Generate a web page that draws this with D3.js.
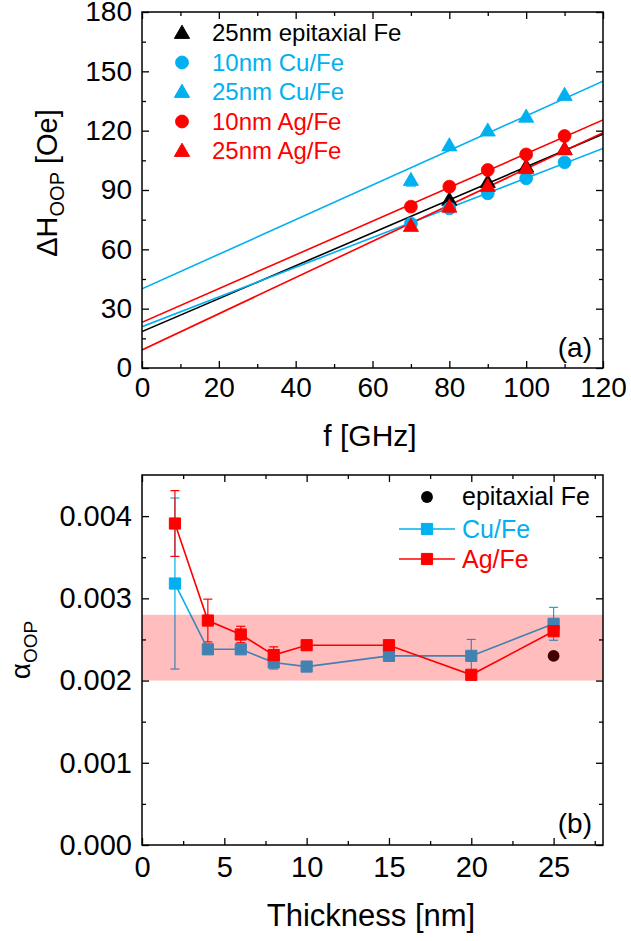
<!DOCTYPE html>
<html><head><meta charset="utf-8">
<script src="https://cdn.jsdelivr.net/npm/d3@7"></script>
<style>body{margin:0;background:#fff}svg{display:block;font-family:"Liberation Sans",Arial,sans-serif}</style>
</head><body>
<script>
// ---------- Panel (a) data ----------
const freqGHz = [70, 80, 90, 100, 110];
const epiFe25 = [null, 85, 94, 101.8, 110.6];
const cuFe10 = [73, 80.7, 88.3, 95.9, 104];
const cuFe25 = [95, 112.5, 120, 127, 138];
const cuFe25Err = [3, 0, 0, 0, 0];
const agFe10 = [81.6, 91.7, 100.1, 108, 117.3];
const agFe25 = [71.8, 81.5, 92, 101, 110.6];
// linear fits: value at f=0 and f=120
const fitEpi25 = [18.4, 118.3];
const fitCu10 = [20.9, 111];
const fitCu25 = [40, 145];
const fitAg10 = [23.1, 125.4];
const fitAg25 = [9.1, 119];
const legendA = ["25nm epitaxial Fe", "10nm Cu/Fe", "25nm Cu/Fe", "10nm Ag/Fe", "25nm Ag/Fe"];
const ticksA_x = [0, 20, 40, 60, 80, 100, 120];
const ticksA_y = [0, 30, 60, 90, 120, 150, 180];

// ---------- Panel (b) data ----------
const thickness = [2, 4, 6, 8, 10, 15, 20, 25];
const alphaCu = [0.00318, 0.00238, 0.00238, 0.00222, 0.00217, 0.0023, 0.0023, 0.00269];
const alphaCuErr = [0.00104, 0, 0, 0.00008, 0, 0, 0.0002, 0.0002];
const alphaAg = [0.00391, 0.00273, 0.00256, 0.00231, 0.00243, 0.00243, 0.00207, 0.0026];
const alphaAgErr = [0.0004, 0.00026, 0.0001, 0.0001, 0, 0, 0.00003, 0.00005];
const epiThick = [25];
const alphaEpi = [0.0023];
const alphaEpiErr = [0.00004];
const bandRange = [0.002, 0.0028];
const legendB = ["epitaxial Fe", "Cu/Fe", "Ag/Fe"];
const ticksB_x = [0, 5, 10, 15, 20, 25];
const ticksB_y = [0, 0.001, 0.002, 0.003, 0.004];

const BLUE = "#00b0f0", RED = "#ff0000", BLACK = "#000000";

const svg = d3.select("body").append("svg").attr("width", 631).attr("height", 941);

function frame(g, x, y, xMaj, xMin, yMaj, yMin, fmtY, fs, xPad) {
  const [x0, x1] = x.range(), [y1, y0] = y.range();
  g.append("g").attr("class", "xb").attr("transform", `translate(0,${y1})`)
    .call(d3.axisBottom(x).tickValues(xMaj).tickSizeInner(-7).tickSizeOuter(0).tickPadding(xPad).tickFormat(d3.format("d")));
  g.append("g").attr("transform", `translate(0,${y1})`)
    .call(d3.axisBottom(x).tickValues(xMin).tickSizeInner(-4).tickSizeOuter(0).tickFormat(""));
  g.append("g").attr("transform", `translate(${x0},0)`)
    .call(d3.axisLeft(y).tickValues(yMaj).tickSizeInner(-7).tickSizeOuter(0).tickPadding(10).tickFormat(fmtY));
  g.append("g").attr("transform", `translate(${x0},0)`)
    .call(d3.axisLeft(y).tickValues(yMin).tickSizeInner(-4).tickSizeOuter(0).tickFormat(""));
  g.append("g").attr("transform", `translate(0,${y0})`)
    .call(d3.axisTop(x).tickValues(xMaj).tickSizeInner(-7).tickSizeOuter(0).tickFormat(""));
  g.append("g").attr("transform", `translate(0,${y0})`)
    .call(d3.axisTop(x).tickValues(xMin).tickSizeInner(-4).tickSizeOuter(0).tickFormat(""));
  g.append("g").attr("transform", `translate(${x1},0)`)
    .call(d3.axisRight(y).tickValues(yMaj).tickSizeInner(-7).tickSizeOuter(0).tickFormat(""));
  g.append("g").attr("transform", `translate(${x1},0)`)
    .call(d3.axisRight(y).tickValues(yMin).tickSizeInner(-4).tickSizeOuter(0).tickFormat(""));
  g.selectAll(".domain").remove();
  g.selectAll(".tick line").attr("stroke", "#000").attr("stroke-width", 1.3);
  g.selectAll(".tick text").attr("fill", "#000").attr("font-size", fs).attr("font-family", '"Liberation Sans",Arial,sans-serif');
  g.selectAll(".xb .tick text").attr("dy", "0.82em");
  g.append("rect").attr("x", x0).attr("y", y0).attr("width", x1 - x0).attr("height", y1 - y0)
    .attr("fill", "none").attr("stroke", "#000").attr("stroke-width", 1.5);
}

const sym = {
  tri: d3.symbol().type(d3.symbolTriangle).size(100),
  circ: d3.symbol().type(d3.symbolCircle).size(130),
  sq: d3.symbol().type(d3.symbolSquare).size(125),
  dot: d3.symbol().type(d3.symbolCircle).size(110)
};

// ================= Panel (a) =================
const xA = d3.scaleLinear().domain([0, 120]).range([142, 603]);
const yA = d3.scaleLinear().domain([0, 180]).range([368, 12]);
const gA = svg.append("g");
svg.append("clipPath").attr("id", "clipA").append("rect")
  .attr("x", 142).attr("y", 12).attr("width", 461).attr("height", 356);

const seriesA = [
  {name: legendA[0], y: epiFe25, fit: fitEpi25, color: BLACK, s: "tri"},
  {name: legendA[1], y: cuFe10, fit: fitCu10, color: BLUE, s: "circ"},
  {name: legendA[2], y: cuFe25, fit: fitCu25, color: BLUE, s: "tri", err: cuFe25Err},
  {name: legendA[3], y: agFe10, fit: fitAg10, color: RED, s: "circ"},
  {name: legendA[4], y: agFe25, fit: fitAg25, color: RED, s: "tri"}
];
const plotA = gA.append("g").attr("clip-path", "url(#clipA)");
seriesA.forEach(s => {
  plotA.append("line").attr("x1", xA(0)).attr("y1", yA(s.fit[0])).attr("x2", xA(120)).attr("y2", yA(s.fit[1]))
    .attr("stroke", s.color).attr("stroke-width", 1.6);
});
seriesA.forEach(s => {
  const pts = freqGHz.map((f, i) => ({f, v: s.y[i], e: s.err ? s.err[i] : 0})).filter(d => d.v != null);
  pts.filter(d => d.e > 0).forEach(d => {
    const gx = xA(d.f);
    plotA.append("line").attr("x1", gx).attr("x2", gx).attr("y1", yA(d.v - d.e)).attr("y2", yA(d.v + d.e)).attr("stroke", s.color).attr("stroke-width", 1.2);
    plotA.append("line").attr("x1", gx - 5).attr("x2", gx + 5).attr("y1", yA(d.v - d.e)).attr("y2", yA(d.v - d.e)).attr("stroke", s.color).attr("stroke-width", 1.2);
  });
  plotA.selectAll(null).data(pts).join("path")
    .attr("d", sym[s.s]).attr("transform", d => `translate(${xA(d.f)},${yA(d.v) + (s.s === "tri" ? 1 : 0)})`)
    .attr("fill", s.color).attr("stroke", s.color).attr("stroke-width", 0.8);
});
frame(gA, xA, yA, ticksA_x, d3.range(10, 120, 20), ticksA_y, d3.range(15, 180, 30), d3.format("d"), 28, 6);

// legend (a)
seriesA.forEach((s, i) => {
  const ly = 33 + i * 29.5;
  gA.append("path").attr("d", sym[s.s]).attr("transform", `translate(182,${ly + (s.s === "tri" ? 1 : 0)})`).attr("fill", s.color).attr("stroke", s.color);
  gA.append("text").attr("x", 212).attr("y", ly + 8).attr("font-size", 24).attr("fill", s.color).text(s.name);
});
gA.append("text").attr("x", 592).attr("y", 357).attr("text-anchor", "end").attr("font-size", 28).text("(a)");
gA.append("text").attr("x", 370).attr("y", 446).attr("text-anchor", "middle").attr("font-size", 30).text("f [GHz]");
const labA = gA.append("text").attr("transform", "translate(57,183) rotate(-90)").attr("text-anchor", "middle").attr("font-size", 29);
labA.append("tspan").text("ΔH");
labA.append("tspan").attr("font-size", 20).attr("dy", 7).text("OOP");
labA.append("tspan").attr("dy", -7).text(" [Oe]");

// ================= Panel (b) =================
const xB = d3.scaleLinear().domain([0, 28]).range([142, 603]);
const yB = d3.scaleLinear().domain([0, 0.0045]).range([845, 475]);
const gB = svg.append("g");
svg.append("clipPath").attr("id", "clipB").append("rect").attr("x", 142).attr("y", 475).attr("width", 461).attr("height", 370);
const plotB = gB.append("g").attr("clip-path", "url(#clipB)");

function errBars(xs, ys, es, color) {
  xs.forEach((t, i) => {
    if (!es[i]) return;
    const gx = xB(t);
    plotB.append("line").attr("x1", gx).attr("x2", gx).attr("y1", yB(ys[i] - es[i])).attr("y2", yB(ys[i] + es[i])).attr("stroke", color).attr("stroke-width", 1.2);
    [ys[i] - es[i], ys[i] + es[i]].forEach(v => plotB.append("line").attr("x1", gx - 4.5).attr("x2", gx + 4.5).attr("y1", yB(v)).attr("y2", yB(v)).attr("stroke", color).attr("stroke-width", 1.2));
  });
}
const lineB = d3.line().x(d => xB(d[0])).y(d => yB(d[1]));
errBars(thickness, alphaCu, alphaCuErr, BLUE);
errBars(thickness, alphaAg, alphaAgErr, RED);
errBars(epiThick, alphaEpi, alphaEpiErr, BLACK);
plotB.append("path").attr("d", lineB(thickness.map((t, i) => [t, alphaCu[i]]))).attr("fill", "none").attr("stroke", BLUE).attr("stroke-width", 1.6);
plotB.append("path").attr("d", lineB(thickness.map((t, i) => [t, alphaAg[i]]))).attr("fill", "none").attr("stroke", RED).attr("stroke-width", 1.6);
plotB.selectAll(null).data(thickness.map((t, i) => [t, alphaCu[i]])).join("path")
  .attr("d", sym.sq).attr("transform", d => `translate(${xB(d[0])},${yB(d[1])})`).attr("fill", BLUE).attr("stroke", BLUE);
plotB.selectAll(null).data(thickness.map((t, i) => [t, alphaAg[i]])).join("path")
  .attr("d", sym.sq).attr("transform", d => `translate(${xB(d[0])},${yB(d[1])})`).attr("fill", RED).attr("stroke", RED);
plotB.selectAll(null).data(epiThick.map((t, i) => [t, alphaEpi[i]])).join("path")
  .attr("d", sym.dot).attr("transform", d => `translate(${xB(d[0])},${yB(d[1])})`).attr("fill", BLACK);
// translucent band over the data
plotB.append("rect").attr("x", 142).attr("width", 461).attr("y", yB(bandRange[1])).attr("height", yB(bandRange[0]) - yB(bandRange[1]))
  .attr("fill", RED).attr("fill-opacity", 0.26);

frame(gB, xB, yB, ticksB_x, d3.range(2.5, 28, 5), ticksB_y, d3.range(0.0005, 0.0045, 0.001), d3.format(".3f"), 29, 8);

// legend (b)
gB.append("path").attr("d", sym.dot).attr("transform", "translate(427,497)").attr("fill", BLACK);
gB.append("text").attr("x", 462).attr("y", 505).attr("font-size", 25).attr("fill", BLACK).text(legendB[0]);
[[BLUE, 529, legendB[1]], [RED, 559, legendB[2]]].forEach(([c, ly, t]) => {
  gB.append("line").attr("x1", 399).attr("x2", 455).attr("y1", ly).attr("y2", ly).attr("stroke", c).attr("stroke-width", 1.6);
  gB.append("path").attr("d", sym.sq).attr("transform", `translate(427,${ly})`).attr("fill", c).attr("stroke", c);
  gB.append("text").attr("x", 462).attr("y", ly + 9).attr("font-size", 25).attr("fill", c).text(t);
});
gB.append("text").attr("x", 592).attr("y", 833).attr("text-anchor", "end").attr("font-size", 28).text("(b)");
gB.append("text").attr("x", 371).attr("y", 926).attr("text-anchor", "middle").attr("font-size", 31).text("Thickness [nm]");
const labB = gB.append("text").attr("transform", "translate(30,650) rotate(-90)").attr("text-anchor", "middle").attr("font-size", 28);
labB.append("tspan").text("α");
labB.append("tspan").attr("font-size", 19).attr("dy", 7).text("OOP");
</script>
</body></html>
